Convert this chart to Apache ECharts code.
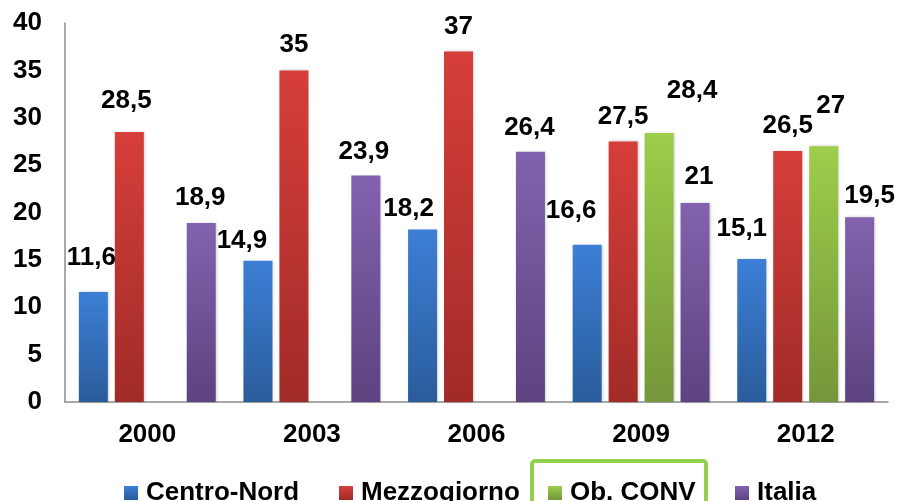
<!DOCTYPE html>
<html>
<head>
<meta charset="utf-8">
<script src="https://cdn.jsdelivr.net/npm/echarts@6/dist/echarts.min.js"></script>
<style>
html,body{margin:0;padding:0;background:#fff;}
#chart{width:898px;height:501px;}
</style>
</head>
<body>
<div id="chart"></div>
<script>
const categories = ['2000', '2003', '2006', '2009', '2012'];
const centroNord = [11.6, 14.9, 18.2, 16.6, 15.1];
const mezzogiorno = [28.5, 35, 37, 27.5, 26.5];
const obConv = [null, null, null, 28.4, 27];
const italia = [18.9, 23.9, 26.4, 21, 19.5];
const yTicks = [0, 5, 10, 15, 20, 25, 30, 35, 40];

// label nudges (layout only), per series per category: [dx, dy]
const shiftCN = [[-2, -9], [-16, 5], [-14, 4], [-16, -9], [-10, -5]];
const shiftMZ = [[-3, -6], [0, -1], [0, 0], [0, 0], [0, 0]];
const shiftOC = [[0, 0], [0, 0], [0, 0], [33, -17], [7, -15]];
const shiftIT = [[-1, 0], [-2, 1], [-1, 1], [4, -1], [10, 4]];

const FONT = '"Liberation Sans", Arial, sans-serif';

function grad(top, bottom) {
  return new echarts.graphic.LinearGradient(0, 0, 0, 1, [
    { offset: 0, color: top },
    { offset: 1, color: bottom }
  ]);
}
const colors = {
  'Centro-Nord': grad('#3C7FD6', '#2A5C9B'),
  'Mezzogiorno': grad('#D63E3A', '#A12B28'),
  'Ob. CONV': grad('#9CCE4A', '#75963A'),
  'Italia': grad('#8262AE', '#5D4380')
};

function fmt(v) { return String(v).replace('.', ','); }

function makeSeries(name, values, shifts) {
  return {
    name: name,
    type: 'bar',
    barWidth: 29,
    barGap: '24%',
    itemStyle: {
      color: colors[name],
      shadowBlur: 3,
      shadowColor: 'rgba(0,0,0,0.22)',
      shadowOffsetX: 1
    },
    label: {
      show: true,
      position: 'top',
      distance: 12,
      fontFamily: FONT,
      fontSize: 26,
      fontWeight: 'bold',
      color: '#000',
      formatter: p => fmt(p.value)
    },
    data: values.map((v, i) => v == null ? null : {
      value: v,
      label: { offset: shifts[i] }
    })
  };
}

function legendAt(name, left) {
  return {
    data: [name],
    left: left,
    top: 475,
    itemWidth: 14,
    itemHeight: 14,
    icon: 'rect',
    selectedMode: false,
    textStyle: {
      fontFamily: FONT,
      fontSize: 26,
      fontWeight: 'bold',
      color: '#000',
      padding: [0, 0, 0, 3]
    }
  };
}

const chart = echarts.init(document.getElementById('chart'), null, { renderer: 'canvas' });
chart.setOption({
  animation: false,
  backgroundColor: '#fff',
  grid: { left: 65, right: 10, top: 23, bottom: 99, containLabel: false, outerBoundsMode: 'none' },
  legend: [
    legendAt('Centro-Nord', 119),
    legendAt('Mezzogiorno', 334),
    legendAt('Ob. CONV', 543),
    legendAt('Italia', 730)
  ],
  xAxis: {
    type: 'category',
    data: categories,
    axisLine: { show: true, lineStyle: { color: '#8C8C8C', width: 1.5 } },
    axisTick: { show: false },
    axisLabel: {
      margin: 20,
      fontFamily: FONT,
      fontSize: 26,
      fontWeight: 'bold',
      color: '#000'
    },
    splitLine: { show: false }
  },
  yAxis: {
    type: 'value',
    min: yTicks[0],
    max: yTicks[yTicks.length - 1],
    interval: 5,
    axisLine: { show: true, lineStyle: { color: '#8C8C8C', width: 1.5 } },
    axisTick: { show: false },
    splitLine: { show: false },
    axisLabel: {
      margin: 23,
      fontFamily: FONT,
      fontSize: 26,
      fontWeight: 'bold',
      color: '#000'
    }
  },
  graphic: [{
    type: 'rect',
    shape: { x: 532, y: 461, width: 174, height: 60, r: 3 },
    style: { fill: 'none', stroke: '#92D050', lineWidth: 4 },
    z: 100
  }],
  series: [
    makeSeries('Centro-Nord', centroNord, shiftCN),
    makeSeries('Mezzogiorno', mezzogiorno, shiftMZ),
    makeSeries('Ob. CONV', obConv, shiftOC),
    makeSeries('Italia', italia, shiftIT)
  ]
});
</script>
</body>
</html>
